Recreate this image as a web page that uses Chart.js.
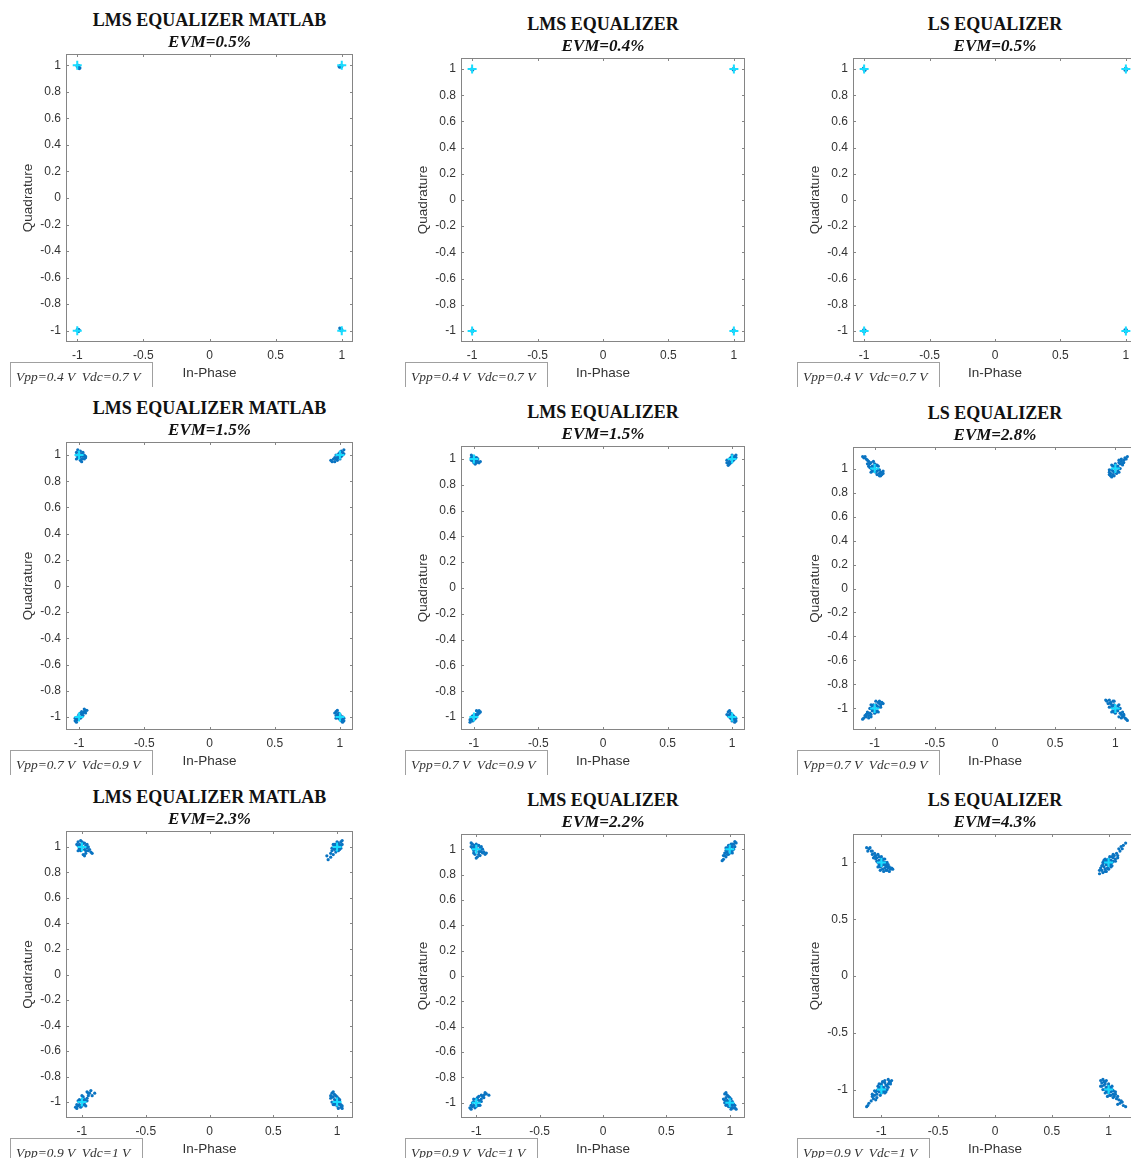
<!DOCTYPE html>
<html>
<head>
<meta charset="utf-8">
<script src="https://cdn.jsdelivr.net/npm/chart.js@4.4.0/dist/chart.umd.min.js"></script>
<style>
  html, body { margin: 0; padding: 0; background: #fff; }
  body { position: relative; width: 1131px; height: 1158px; overflow: hidden; }
  .holder { position: absolute; }
  .title { position: absolute; width: 400px; text-align: center; font: bold 18px/18px "Liberation Serif", serif; color: #111; white-space: nowrap; }
  .evm { position: absolute; width: 300px; text-align: center; font: italic bold 17px/17px "Liberation Serif", serif; color: #111; white-space: nowrap; }
  .cond { position: absolute; border: 1px solid #a0a0a0; border-bottom: none; padding: 0 12px 0 5px;
          font: italic 13.5px/27px "Liberation Serif", serif; color: #333; white-space: pre; overflow: hidden; }
</style>
</head>
<body>
<script>
// panel texts
const titles = ["LMS EQUALIZER MATLAB", "LMS EQUALIZER", "LS EQUALIZER",
                "LMS EQUALIZER MATLAB", "LMS EQUALIZER", "LS EQUALIZER",
                "LMS EQUALIZER MATLAB", "LMS EQUALIZER", "LS EQUALIZER"];
const evmLabels = ["EVM=0.5%", "EVM=0.4%", "EVM=0.5%",
                   "EVM=1.5%", "EVM=1.5%", "EVM=2.8%",
                   "EVM=2.3%", "EVM=2.2%", "EVM=4.3%"];
const condLabels = ["Vpp=0.4 V  Vdc=0.7 V", "Vpp=0.4 V  Vdc=0.7 V", "Vpp=0.4 V  Vdc=0.7 V",
                    "Vpp=0.7 V  Vdc=0.9 V", "Vpp=0.7 V  Vdc=0.9 V", "Vpp=0.7 V  Vdc=0.9 V",
                    "Vpp=0.9 V  Vdc=1 V", "Vpp=0.9 V  Vdc=1 V", "Vpp=0.9 V  Vdc=1 V"];

// axis limits (symmetric) and ticks
const axisLimits = [1.085, 1.085, 1.085, 1.1, 1.1, 1.18, 1.125, 1.12, 1.25];
const xTicks = [-1, -0.5, 0, 0.5, 1];
const yTicksFine = [-1, -0.8, -0.6, -0.4, -0.2, 0, 0.2, 0.4, 0.6, 0.8, 1];
const yTicksCoarse = [-1, -0.5, 0, 0.5, 1];

// ideal QPSK reference points
const refX = [-1, 1, -1, 1];
const refY = [1, 1, -1, -1];

// received symbols
const rx1 = [[-1.0,1.0],[-0.99,0.99],[-0.98,0.98],[-1.0,0.99],[-0.99,1.0],[-0.985,0.975],
  [1.0,1.0],[0.99,0.99],[0.985,0.985],[0.99,1.0],[1.0,0.99],[0.98,0.99],
  [-1.0,-1.0],[-0.99,-0.99],[-0.995,-1.0],[-0.985,-0.995],[-1.0,-0.99],[-0.99,-1.005],
  [1.0,-1.0],[0.99,-0.99],[0.985,-0.98],[0.99,-0.985],[1.0,-0.99],[0.995,-1.0]];
const rx2 = [[-1.0,1.0],[-0.995,0.995],[-1.005,1.0],[-1.0,0.993],
  [1.0,1.0],[0.995,0.995],[1.004,0.998],[0.998,1.005],
  [-1.0,-1.0],[-0.995,-0.995],[-1.004,-1.0],[-0.998,-1.005],
  [1.0,-1.0],[0.995,-0.995],[1.004,-0.998],[0.998,-1.005]];
const rx3 = [[-1.0,1.0],[-0.992,0.994],[-1.006,1.002],[-0.998,0.99],[-1.004,1.007],
  [1.0,1.0],[0.993,0.993],[1.006,1.002],[0.998,1.007],[1.003,0.992],
  [-1.0,-1.0],[-0.993,-0.994],[-1.006,-1.002],[-0.998,-1.007],[-1.003,-0.992],
  [1.0,-1.0],[0.993,-0.993],[1.006,-1.003],[0.998,-1.007],[1.004,-0.992]];
const rx4 = [[-1.0,1.0],[-1.02,1.02],[-1.01,1.04],[-0.99,1.03],[-1.02,1.0],[-1.0,1.02],[-0.98,1.01],
  [-0.97,0.99],[-0.96,1.0],[-0.95,0.98],[-0.96,0.97],[-0.98,0.97],[-0.99,0.96],[-0.98,0.95],
  [-1.0,0.98],[-0.99,0.99],[-1.01,0.98],[-1.02,0.97],[-0.97,1.02],[-0.95,0.99],
  [1.0,1.0],[1.02,1.02],[1.03,1.04],[1.01,1.03],[1.03,1.01],[0.99,1.01],[1.01,0.99],
  [0.98,0.98],[0.97,1.0],[0.96,0.98],[0.98,0.96],[0.95,0.97],[0.94,0.95],[0.96,0.95],
  [1.0,0.97],[0.99,0.98],[1.02,1.0],[1.0,1.02],[0.97,0.97],[0.93,0.96],
  [-1.0,-1.0],[-1.02,-1.02],[-1.03,-1.03],[-1.02,-1.04],[-1.01,-1.0],[-0.99,-1.01],[-1.0,-0.98],
  [-0.98,-0.98],[-0.97,-0.97],[-0.96,-0.96],[-0.95,-0.95],[-0.96,-0.94],[-0.94,-0.95],[-0.98,-0.96],
  [-0.97,-0.99],[-1.01,-1.02],[-0.99,-0.97],[-1.03,-1.01],[-0.98,-1.0],[-0.95,-0.97],
  [1.0,-1.0],[0.98,-0.98],[0.97,-0.96],[0.98,-0.95],[0.99,-0.97],[0.97,-0.99],[0.96,-0.97],
  [1.0,-0.98],[1.01,-1.0],[0.99,-1.01],[1.02,-1.02],[1.03,-1.03],[1.02,-1.04],[1.0,-1.02],
  [0.98,-1.0],[1.01,-1.03],[1.03,-1.01],[0.97,-1.01],[0.99,-0.99],[1.02,-1.0]];
const rx5 = [[-1.0,1.0],[-1.02,1.01],[-0.98,0.99],[-1.01,1.02],[-0.99,0.98],[-0.97,0.98],
  [-0.96,0.97],[-1.0,0.97],[-1.02,0.99],[-0.98,1.01],[-0.97,1.0],[-1.01,0.985],
  [-1.0,1.02],[-0.99,1.0],[-0.98,0.97],[-1.02,1.03],[-0.95,0.98],[-0.99,0.96],
  [1.0,1.0],[1.02,1.02],[0.98,0.98],[1.03,1.03],[0.97,0.97],[0.99,1.01],
  [1.01,0.99],[0.96,0.97],[0.97,0.95],[1.02,1.0],[1.0,1.03],[0.99,0.97],
  [1.01,1.01],[0.98,1.0],[1.0,0.98],[1.03,1.01],[0.96,0.99],[0.98,0.96],
  [-1.0,-1.0],[-1.02,-1.02],[-0.98,-0.98],[-1.03,-1.04],[-0.97,-0.96],[-0.96,-0.95],
  [-0.99,-1.01],[-1.01,-0.99],[-0.98,-0.95],[-1.01,-1.03],[-0.97,-0.98],[-1.02,-1.0],
  [-1.0,-1.02],[-0.99,-0.98],[-0.96,-0.97],[-1.03,-1.02],[-0.98,-1.0],[-0.95,-0.96],
  [1.0,-1.0],[0.98,-0.98],[1.02,-1.02],[0.97,-0.96],[0.99,-0.97],[1.01,-0.99],
  [0.99,-1.01],[1.03,-1.03],[1.0,-1.03],[0.97,-0.99],[1.02,-1.0],[0.98,-0.95],
  [1.01,-1.01],[0.98,-1.0],[1.0,-0.98],[1.03,-1.01],[0.96,-0.98],[1.02,-1.04]];
const rx6 = [[-1.0,1.0],[-1.02,1.02],[-0.98,0.98],[-1.03,1.0],[-1.0,1.02],[-0.97,0.99],[-0.99,0.97],[-1.01,1.01],
  [-1.04,1.04],[-0.96,0.96],[-1.05,1.06],[-1.06,1.04],[-1.07,1.08],[-1.09,1.09],[-1.1,1.1],[-1.08,1.1],
  [-0.95,0.97],[-0.94,0.95],[-0.93,0.96],[-0.96,0.94],[-0.98,0.95],[-1.03,1.05],[-1.01,0.98],[-0.99,1.03],
  [-0.98,1.03],[-1.02,0.98],[-0.96,0.99],[-1.04,1.01],[-1.0,1.04],[-0.97,1.02],[-1.03,0.97],[-1.06,1.07],
  [-1.05,1.02],[-0.95,0.94],[-1.01,1.06],[-0.93,0.98],
  [1.0,1.0],[1.02,1.02],[0.98,0.98],[1.03,1.0],[1.0,1.02],[0.97,0.99],[0.99,0.97],[1.01,1.01],
  [1.04,1.04],[0.96,0.96],[1.05,1.06],[1.06,1.04],[1.07,1.07],[1.09,1.08],[1.1,1.1],[1.08,1.09],
  [0.96,0.94],[0.95,0.95],[0.97,0.93],[0.98,0.95],[1.03,1.05],[0.99,1.02],[1.02,0.98],[0.95,0.97],
  [0.98,1.02],[1.04,1.0],[1.0,1.04],[1.03,0.97],[0.97,1.03],[1.06,1.03],[1.03,1.07],[0.95,0.99],
  [0.99,0.94],[1.07,1.05],[1.05,1.08],[1.01,0.96],
  [-1.0,-1.0],[-1.02,-1.02],[-0.98,-0.98],[-1.03,-1.0],[-1.0,-1.02],[-0.97,-0.99],[-0.99,-0.97],[-1.01,-1.01],
  [-1.04,-1.04],[-0.96,-0.96],[-1.05,-1.06],[-1.06,-1.04],[-1.07,-1.07],[-1.09,-1.08],[-1.1,-1.09],[-1.08,-1.06],
  [-0.95,-0.97],[-0.94,-0.95],[-0.93,-0.96],[-0.96,-0.94],[-0.97,-0.95],[-1.03,-1.05],[-1.01,-0.97],[-0.99,-1.03],
  [-0.98,-1.02],[-1.02,-0.98],[-1.04,-1.0],[-1.0,-1.04],[-0.97,-1.03],[-1.03,-0.97],[-1.06,-1.03],[-1.03,-1.07],
  [-0.95,-0.99],[-0.99,-0.94],[-1.07,-1.05],[-1.05,-1.08],
  [1.0,-1.0],[1.02,-1.02],[0.98,-0.98],[1.03,-1.0],[1.0,-1.02],[0.97,-0.99],[0.99,-0.97],[1.01,-1.01],
  [1.04,-1.04],[0.96,-0.96],[0.95,-0.93],[0.93,-0.94],[0.96,-0.95],[0.98,-0.94],[0.97,-0.97],[1.05,-1.05],
  [1.06,-1.07],[1.07,-1.06],[1.08,-1.08],[1.09,-1.09],[1.1,-1.1],[1.05,-1.08],[0.99,-1.03],[1.02,-0.98],
  [0.98,-1.02],[1.04,-1.0],[1.0,-1.04],[1.03,-0.97],[0.97,-1.03],[1.06,-1.03],[1.03,-1.07],[0.95,-0.99],
  [0.99,-0.94],[1.07,-1.05],[0.94,-0.96],[0.92,-0.93]];
const rx7 = [[-1.0,1.0],[-1.02,1.02],[-0.98,0.98],[-1.03,1.04],[-1.01,1.05],[-0.99,1.03],[-0.97,1.01],
  [-0.96,0.99],[-0.95,0.97],[-0.93,0.96],[-0.92,0.95],[-0.97,0.95],[-0.99,0.94],[-0.98,0.93],
  [-1.02,0.99],[-1.03,1.01],[-1.0,1.02],[-0.95,1.0],[-0.94,0.98],[-1.01,0.97],
  [-0.98,1.03],[-1.02,0.98],[-1.04,1.02],[-1.0,1.04],[-0.96,1.02],[-1.03,0.97],[-0.97,0.97],[-1.01,1.0],
  [1.0,1.0],[1.02,1.02],[0.98,0.98],[1.03,1.04],[1.04,1.05],[1.01,1.03],[0.97,0.99],
  [0.99,0.96],[0.96,0.97],[0.95,0.95],[1.02,0.99],[1.0,1.04],[0.98,1.01],[0.97,0.94],
  [0.95,0.92],[0.92,0.93],[0.93,0.9],[1.03,1.01],[0.99,1.02],[1.01,0.97],
  [1.02,0.98],[0.98,1.02],[1.04,1.02],[1.0,1.01],[0.96,0.99],[0.99,0.99],[1.03,0.99],[0.97,1.02],
  [-1.0,-1.0],[-1.02,-1.02],[-0.98,-0.98],[-1.03,-1.03],[-1.04,-1.05],[-1.01,-1.04],[-0.97,-0.99],
  [-0.99,-0.96],[-0.96,-0.97],[-0.95,-0.95],[-0.98,-1.02],[-1.02,-0.99],[-0.94,-0.93],[-0.93,-0.91],
  [-0.96,-0.92],[-0.9,-0.93],[-0.92,-0.95],[-1.0,-0.95],[-0.97,-1.03],[-1.05,-1.04],
  [-0.98,-1.02],[-1.02,-0.98],[-1.04,-1.02],[-1.0,-1.03],[-0.96,-0.99],[-0.99,-0.99],[-1.03,-0.99],[-0.95,-0.93],
  [1.0,-1.0],[0.98,-0.98],[1.02,-1.02],[0.97,-0.96],[0.96,-0.93],[0.97,-0.92],[0.99,-0.95],
  [0.95,-0.97],[1.01,-0.97],[0.98,-1.01],[1.0,-1.03],[1.03,-1.04],[1.04,-1.05],[1.02,-0.99],
  [0.96,-1.0],[0.99,-0.99],[1.01,-1.05],[1.03,-1.02],[0.97,-1.02],[0.95,-0.95],
  [1.02,-0.98],[0.98,-1.02],[1.0,-0.96],[1.01,-1.01],[0.96,-0.96],[1.04,-1.03],[0.98,-0.94],[1.0,-0.99]];
const rx8 = [[-1.0,1.0],[-1.02,1.02],[-0.98,0.98],[-1.03,1.04],[-1.04,1.05],[-1.01,1.03],[-0.97,1.01],
  [-0.96,0.98],[-0.95,0.97],[-0.93,0.96],[-0.92,0.97],[-0.97,0.95],[-0.99,0.94],[-1.0,0.93],
  [-1.02,0.99],[-1.03,1.01],[-1.0,1.02],[-0.95,1.0],[-0.94,0.98],[-1.01,0.96],
  [-0.98,1.03],[-1.02,0.97],[-1.04,1.02],[-1.0,1.04],[-0.96,1.02],[-0.98,0.96],[-0.97,0.99],[-1.01,1.0],
  [1.0,1.0],[1.02,1.02],[0.98,0.98],[1.03,1.04],[1.05,1.05],[1.04,1.02],[0.99,1.03],
  [0.97,0.99],[0.99,0.96],[0.96,0.97],[0.95,0.95],[1.01,0.99],[0.98,1.01],[0.97,0.94],
  [0.95,0.92],[0.94,0.91],[1.02,0.97],[1.04,1.06],[1.01,1.04],[0.96,0.95],
  [1.02,0.99],[0.99,1.0],[1.03,1.0],[1.0,1.02],[0.97,1.01],[0.98,0.96],[1.0,0.97],[1.02,1.04],
  [-1.0,-1.0],[-1.02,-1.02],[-0.98,-0.98],[-1.03,-1.03],[-1.05,-1.04],[-1.01,-1.04],[-0.97,-0.99],
  [-0.99,-0.96],[-0.96,-0.97],[-0.95,-0.95],[-0.98,-1.02],[-1.02,-0.99],[-0.94,-0.94],[-0.92,-0.93],
  [-0.93,-0.92],[-0.9,-0.94],[-0.96,-0.94],[-1.0,-0.97],[-0.97,-1.02],[-1.04,-1.02],
  [-0.99,-1.02],[-1.02,-0.97],[-1.04,-1.05],[-1.0,-1.03],[-0.96,-0.99],[-0.98,-0.95],[-1.03,-1.0],[-0.94,-0.96],
  [1.0,-1.0],[0.98,-0.98],[1.02,-1.02],[0.97,-0.96],[0.96,-0.93],[0.97,-0.92],[0.99,-0.95],
  [0.95,-0.97],[1.01,-0.97],[0.98,-1.01],[1.0,-1.03],[1.03,-1.04],[1.05,-1.05],[1.02,-0.99],
  [0.96,-1.0],[0.99,-0.99],[1.01,-1.05],[1.04,-1.02],[0.97,-1.02],[1.03,-1.01],
  [1.0,-0.96],[0.98,-0.94],[1.02,-1.04],[0.96,-0.98],[1.01,-1.01],[0.99,-1.03],[1.04,-1.04],[0.97,-0.99]];
const rx9 = [[-1.0,1.0],[-1.02,1.02],[-0.98,0.98],[-1.03,1.0],[-1.0,1.03],[-0.97,1.0],[-1.0,0.97],
  [-0.99,1.01],[-1.01,0.99],[-1.04,1.04],[-0.96,0.96],[-1.05,1.06],[-0.95,0.97],[-0.97,0.95],
  [-1.02,1.05],[-1.05,1.03],[-0.94,0.95],[-0.93,0.96],[-0.92,0.94],[-0.96,0.93],[-0.98,0.92],
  [-1.06,1.08],[-1.08,1.07],[-1.09,1.1],[-1.11,1.12],[-1.13,1.13],[-1.12,1.1],[-1.1,1.13],
  [-0.91,0.95],[-0.99,0.94],[-1.03,1.07],[-0.95,1.0],[-1.01,0.96],[-1.07,1.04],[-0.97,0.98],
  [-0.98,1.03],[-1.02,0.98],[-0.96,0.99],[-1.04,1.01],[-1.0,1.05],[-0.97,1.03],[-1.03,0.96],
  [-1.06,1.05],[-0.94,0.98],[-0.95,0.93],[-1.01,0.93],[-1.08,1.1],[-0.93,0.92],[-0.9,0.94],
  [1.0,1.0],[1.02,1.02],[0.98,0.98],[1.03,1.0],[1.0,1.03],[0.97,1.0],[1.0,0.97],
  [0.99,1.01],[1.01,0.99],[1.04,1.04],[0.96,0.96],[1.05,1.06],[0.95,0.98],[0.97,0.94],
  [1.06,1.03],[0.94,0.93],[0.93,0.95],[0.95,0.91],[0.98,0.92],[1.07,1.08],[1.08,1.06],
  [1.1,1.1],[1.12,1.12],[1.13,1.15],[1.15,1.17],[1.11,1.14],[1.09,1.12],[0.92,0.9],
  [1.03,1.05],[0.96,1.02],[1.02,0.96],[0.99,0.95],
  [1.02,0.98],[0.98,1.02],[1.04,1.01],[1.01,1.05],[1.03,0.97],[0.97,1.03],[1.06,1.01],
  [1.04,1.07],[0.94,0.97],[0.97,0.92],[1.08,1.04],[0.92,0.93],[1.0,0.94],[0.95,1.0],
  [-1.0,-1.0],[-1.02,-1.02],[-0.98,-0.98],[-1.03,-1.0],[-1.0,-1.03],[-0.97,-1.0],[-1.0,-0.97],
  [-0.99,-1.01],[-1.01,-0.99],[-1.04,-1.04],[-0.96,-0.96],[-1.06,-1.05],[-0.95,-0.97],[-0.97,-0.94],
  [-0.94,-0.95],[-0.93,-0.93],[-0.91,-0.92],[-0.92,-0.95],[-1.07,-1.08],[-1.08,-1.06],[-1.09,-1.1],
  [-1.11,-1.12],[-1.12,-1.14],[-1.13,-1.15],[-1.05,-1.09],[-0.96,-1.02],[-1.02,-0.95],[-0.99,-0.93],
  [-0.94,-0.91],[-1.05,-1.02],
  [-0.98,-1.02],[-1.02,-0.98],[-1.04,-1.01],[-1.01,-1.05],[-0.97,-1.03],[-1.03,-0.97],[-1.06,-1.01],
  [-1.04,-1.07],[-0.94,-0.98],[-0.97,-0.92],[-1.08,-1.04],[-0.92,-0.93],[-1.0,-0.95],[-0.95,-1.0],
  [1.0,-1.0],[1.02,-1.02],[0.98,-0.98],[1.03,-1.0],[1.0,-1.03],[0.97,-1.0],[1.0,-0.97],
  [0.99,-1.01],[1.01,-0.99],[1.04,-1.04],[0.96,-0.96],[0.96,-0.93],[0.98,-0.92],[0.94,-0.94],
  [0.95,-0.91],[0.97,-0.95],[1.05,-1.06],[1.06,-1.04],[1.07,-1.08],[1.09,-1.09],[1.1,-1.12],
  [1.12,-1.11],[1.13,-1.14],[1.15,-1.15],[1.08,-1.13],[1.02,-1.05],[0.99,-1.06],[1.04,-1.01],
  [0.93,-0.97],[1.11,-1.1],
  [1.02,-0.98],[0.98,-1.02],[1.04,-1.01],[1.01,-1.05],[1.03,-0.97],[0.97,-1.03],[1.06,-1.02],
  [1.04,-1.07],[0.94,-0.97],[0.97,-0.93],[1.08,-1.06],[0.93,-0.92],[1.0,-0.95],[0.95,-1.0]];
const received = [rx1, rx2, rx3, rx4, rx5, rx6, rx7, rx8, rx9];

// layout: plot area [left, top, width, height] of each panel in the page
const plotRects = [
  [66, 54, 287, 288], [461, 58, 284, 284], [853, 58, 284, 284],
  [66, 442, 287, 288], [461, 446, 284, 284], [853, 447, 284, 283],
  [66, 831, 287, 287], [461, 834, 284, 284], [853, 834, 284, 284]
];

const AXIS_W = 66, AXIS_H = 40, PAD_TOP = 14, PAD_RIGHT = 12;
const FRAME = "#858585";

// MATLAB-like box with inward ticks on all four sides
const matlabFrame = {
  id: "matlabFrame",
  beforeDatasetsDraw(chart) {
    const { ctx, chartArea: a, scales: { x, y } } = chart;
    ctx.save();
    ctx.strokeStyle = FRAME;
    ctx.lineWidth = 1;
    ctx.strokeRect(a.left + 0.5, a.top + 0.5, a.width - 1, a.height - 1);
    ctx.beginPath();
    x.ticks.forEach((t) => {
      const px = Math.round(x.getPixelForValue(t.value)) + 0.5;
      ctx.moveTo(px, a.top); ctx.lineTo(px, a.top + 3);
      ctx.moveTo(px, a.bottom); ctx.lineTo(px, a.bottom - 3);
    });
    y.ticks.forEach((t) => {
      const py = Math.round(y.getPixelForValue(t.value)) + 0.5;
      ctx.moveTo(a.left, py); ctx.lineTo(a.left + 3, py);
      ctx.moveTo(a.right, py); ctx.lineTo(a.right - 3, py);
    });
    ctx.stroke();
    ctx.restore();
  },
};

function addText(cls, text, left, top) {
  const d = document.createElement("div");
  d.className = cls;
  d.textContent = text;
  d.style.left = left + "px";
  d.style.top = top + "px";
  document.body.appendChild(d);
  return d;
}

function buildPanel(i) {
  const [L, T, W, H] = plotRects[i];
  const lim = axisLimits[i];
  const yTicks = i === 8 ? yTicksCoarse : yTicksFine;

  addText("title", titles[i], L + W / 2 - 200, T - 43);
  addText("evm", evmLabels[i], L + W / 2 - 150, T - 21);
  const box = addText("cond", condLabels[i], L - 56, T + H + 20);
  box.style.height = (i >= 6 ? 40 : 24) + "px";

  const holder = document.createElement("div");
  holder.className = "holder";
  const cw = W + AXIS_W + PAD_RIGHT, ch = H + PAD_TOP + AXIS_H;
  holder.style.cssText += `left:${L - AXIS_W}px;top:${T - PAD_TOP}px;width:${cw}px;height:${ch}px`;
  const canvas = document.createElement("canvas");
  canvas.width = cw;
  canvas.height = ch;
  holder.appendChild(canvas);
  document.body.insertBefore(holder, document.body.firstChild);

  const tickFont = { family: "Liberation Sans", size: 12 };
  const titleFont = { family: "Liberation Sans", size: 13.5 };

  new Chart(canvas, {
    type: "scatter",
    data: {
      datasets: [
        {
          label: "Reference",
          data: refX.map((v, k) => ({ x: v, y: refY[k] })),
          pointStyle: "cross",
          pointRadius: 4.5,
          borderColor: "#18dcff",
          borderWidth: 2,
        },
        {
          label: "Received",
          data: received[i].map((p) => ({ x: p[0], y: p[1] })),
          pointRadius: 1.6,
          borderWidth: 0,
          backgroundColor: "#0a74c2",
        },
      ],
    },
    options: {
      responsive: false,
      animation: false,
      events: [],
      layout: { padding: { top: PAD_TOP, right: PAD_RIGHT, left: 0, bottom: 0 } },
      plugins: { legend: { display: false }, tooltip: { enabled: false } },
      scales: {
        x: {
          type: "linear",
          min: -lim,
          max: lim,
          afterBuildTicks: (s) => { s.ticks = xTicks.map((v) => ({ value: v })); },
          afterFit: (s) => { s.height = AXIS_H; },
          grid: { display: false, drawTicks: false },
          border: { display: false },
          ticks: { color: "#333", font: tickFont, padding: 6, maxRotation: 0, callback: (v) => String(v) },
          title: { display: true, text: "In-Phase", color: "#333", font: titleFont, padding: { top: 0, bottom: 1 } },
        },
        y: {
          type: "linear",
          min: -lim,
          max: lim,
          afterBuildTicks: (s) => { s.ticks = yTicks.map((v) => ({ value: v })); },
          afterFit: (s) => { s.width = AXIS_W; },
          grid: { display: false, drawTicks: false },
          border: { display: false },
          ticks: { color: "#333", font: tickFont, padding: 5, callback: (v) => String(v) },
          title: { display: true, text: "Quadrature", color: "#333", font: titleFont, padding: { top: 20, bottom: 0 } },
        },
      },
    },
    plugins: [matlabFrame],
  });
}

for (let i = 0; i < 9; i++) buildPanel(i);
</script>
</body>
</html>
